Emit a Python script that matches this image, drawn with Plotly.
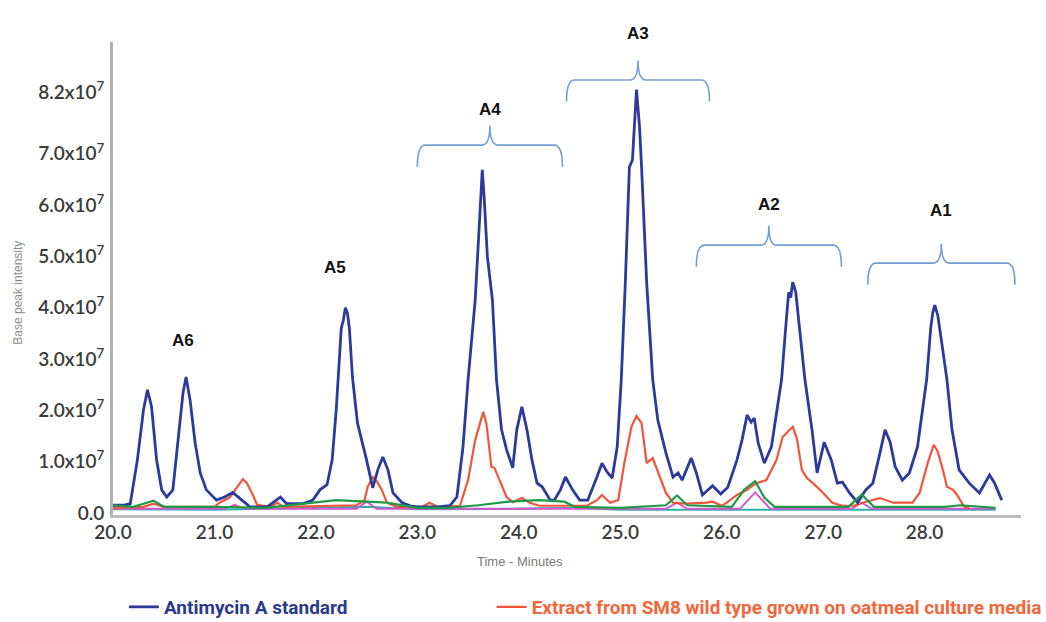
import plotly.graph_objects as go

# ---------------- data (time in minutes, intensity in units of 1e7) ----------------
blue_t = [20.00, 20.10, 20.17, 20.24, 20.30, 20.34, 20.38, 20.43, 20.48, 20.53, 20.59, 20.64, 20.69, 20.72,
          20.76, 20.81, 20.86, 20.92, 21.02, 21.10, 21.18, 21.27, 21.35, 21.52, 21.58, 21.65, 21.71, 21.87,
          21.97, 22.04, 22.11, 22.16, 22.20, 22.23, 22.25, 22.27, 22.29, 22.31, 22.33, 22.36, 22.41, 22.50,
          22.56, 22.61, 22.66, 22.71, 22.76, 22.85, 22.93, 23.00, 23.20, 23.32, 23.39, 23.45, 23.50, 23.57,
          23.60, 23.62, 23.64, 23.66, 23.69, 23.74, 23.78, 23.83, 23.88, 23.94, 23.98, 24.03, 24.08, 24.13,
          24.18, 24.23, 24.31, 24.35, 24.41, 24.46, 24.53, 24.60, 24.68, 24.77, 24.82, 24.87, 24.92, 24.97,
          25.01, 25.05, 25.09, 25.12, 25.16, 25.19, 25.21, 25.26, 25.32, 25.37, 25.45, 25.52, 25.57, 25.61,
          25.70, 25.75, 25.81, 25.91, 25.99, 26.06, 26.11, 26.15, 26.20, 26.25, 26.29, 26.32, 26.36, 26.42,
          26.49, 26.54, 26.59, 26.63, 26.66, 26.68, 26.70, 26.73, 26.77, 26.82, 26.89, 26.94, 27.01, 27.08,
          27.14, 27.19, 27.26, 27.34, 27.42, 27.49, 27.56, 27.61, 27.66, 27.71, 27.78, 27.85, 27.93, 27.98,
          28.02, 28.06, 28.08, 28.10, 28.13, 28.17, 28.22, 28.27, 28.34, 28.44, 28.54, 28.64, 28.69, 28.76]
blue_v = [0.15, 0.15, 0.18, 1.03, 2.00, 2.40, 2.07, 1.03, 0.45, 0.31, 0.45, 1.36, 2.34, 2.65,
          2.20, 1.36, 0.78, 0.45, 0.25, 0.31, 0.40, 0.25, 0.12, 0.12, 0.21, 0.31, 0.18, 0.18,
          0.25, 0.45, 0.55, 1.03, 2.00, 3.00, 3.60, 3.75, 4.00, 3.90, 3.60, 2.65, 1.75, 1.03,
          0.49, 0.84, 1.09, 0.84, 0.39, 0.20, 0.14, 0.12, 0.12, 0.14, 0.31, 1.29, 2.60, 4.15,
          5.20, 6.10, 6.69, 6.10, 5.00, 4.15, 2.60, 1.62, 1.23, 0.88, 1.62, 2.07, 1.62, 1.03,
          0.58, 0.51, 0.25, 0.25, 0.45, 0.70, 0.45, 0.25, 0.25, 0.70, 0.97, 0.80, 0.68, 1.29,
          2.60, 4.50, 6.74, 6.88, 8.25, 7.52, 6.74, 4.50, 2.60, 1.81, 1.17, 0.70, 0.78, 0.64,
          1.07, 0.78, 0.35, 0.53, 0.37, 0.50, 0.78, 1.03, 1.42, 1.91, 1.77, 1.85, 1.36, 0.97,
          1.29, 1.95, 2.60, 3.60, 4.30, 4.20, 4.50, 4.30, 3.60, 2.60, 1.62, 0.78, 1.38, 1.03,
          0.58, 0.60, 0.39, 0.20, 0.45, 0.58, 1.17, 1.62, 1.38, 0.90, 0.64, 0.78, 1.29, 2.07,
          2.60, 3.60, 3.90, 4.05, 3.85, 3.30, 2.60, 1.62, 0.84, 0.58, 0.39, 0.74, 0.58, 0.25]

red_t = [20.00, 20.30, 20.40, 20.50, 21.00, 21.05, 21.15, 21.23, 21.28, 21.32, 21.37, 21.42, 21.55, 21.62,
         21.68, 22.40, 22.48, 22.51, 22.56, 22.60, 22.65, 22.70, 22.80, 23.05, 23.12, 23.20, 23.42, 23.50,
         23.57, 23.65, 23.68, 23.73, 23.76, 23.81, 23.88, 23.94, 24.03, 24.11, 24.20, 24.67, 24.77, 24.82,
         24.90, 24.98, 25.04, 25.11, 25.16, 25.21, 25.26, 25.32, 25.39, 25.45, 25.52, 25.65, 25.85, 25.91,
         26.00, 26.05, 26.15, 26.25, 26.34, 26.44, 26.54, 26.60, 26.67, 26.70, 26.74, 26.79, 26.84, 26.90,
         27.00, 27.09, 27.19, 27.30, 27.39, 27.56, 27.69, 27.88, 27.95, 28.03, 28.09, 28.13, 28.18, 28.22,
         28.28, 28.32, 28.39, 28.44]
red_v = [0.10, 0.12, 0.18, 0.12, 0.12, 0.20, 0.30, 0.51, 0.66, 0.58, 0.39, 0.16, 0.12, 0.20,
         0.12, 0.15, 0.25, 0.51, 0.70, 0.62, 0.45, 0.20, 0.12, 0.12, 0.20, 0.12, 0.14, 0.64,
         1.42, 1.97, 1.75, 0.90, 0.88, 0.64, 0.31, 0.21, 0.29, 0.20, 0.14, 0.14, 0.25, 0.35,
         0.20, 0.25, 0.97, 1.68, 1.89, 1.75, 0.97, 1.07, 0.70, 0.39, 0.20, 0.18, 0.20, 0.22,
         0.14, 0.20, 0.35, 0.45, 0.58, 0.64, 1.03, 1.48, 1.62, 1.68, 1.46, 0.84, 0.68, 0.58,
         0.39, 0.20, 0.14, 0.14, 0.20, 0.29, 0.20, 0.20, 0.39, 0.97, 1.33, 1.19, 0.84, 0.51,
         0.45, 0.35, 0.12, 0.10]

green_t = [20.00, 20.20, 20.30, 20.40, 20.50, 21.00, 21.50, 21.90, 22.20, 22.50, 22.70, 23.00, 23.30, 23.60,
           23.90, 24.20, 24.45, 24.55, 25.00, 25.45, 25.56, 25.66, 26.10, 26.22, 26.33, 26.42, 26.52, 27.25,
           27.38, 27.50, 28.20, 28.35, 28.70]
green_v = [0.15, 0.12, 0.18, 0.24, 0.12, 0.12, 0.10, 0.18, 0.25, 0.22, 0.20, 0.10, 0.10, 0.15,
           0.22, 0.25, 0.22, 0.12, 0.10, 0.15, 0.34, 0.15, 0.12, 0.45, 0.62, 0.30, 0.12, 0.12,
           0.36, 0.12, 0.12, 0.15, 0.10]

magenta_t = [20.00, 21.10, 21.20, 21.30, 22.40, 22.50, 22.60, 25.45, 25.56, 25.66, 26.18, 26.33, 26.48,
             27.28, 27.38, 27.48, 28.70]
magenta_v = [0.08, 0.08, 0.16, 0.08, 0.08, 0.22, 0.08, 0.08, 0.20, 0.08, 0.08, 0.40, 0.08,
             0.08, 0.20, 0.08, 0.08]

teal_t = [20.00, 21.00, 22.00, 22.50, 23.00, 24.00, 24.50, 25.00, 26.00, 27.00, 28.00, 28.70]
teal_v = [0.07, 0.06, 0.10, 0.12, 0.07, 0.08, 0.10, 0.06, 0.06, 0.06, 0.06, 0.06]

y_tick_vals = [0.0, 1.0, 2.0, 3.0, 4.0, 5.0, 6.0, 7.0, 8.2]
y_tick_text = ["0.0", "1.0x10<sup>7</sup>", "2.0x10<sup>7</sup>", "3.0x10<sup>7</sup>", "4.0x10<sup>7</sup>",
               "5.0x10<sup>7</sup>", "6.0x10<sup>7</sup>", "7.0x10<sup>7</sup>", "8.2x10<sup>7</sup>"]
x_tick_vals = [20.0, 21.0, 22.0, 23.0, 24.0, 25.0, 26.0, 27.0, 28.0]
x_tick_text = ["20.0", "21.0", "22.0", "23.0", "24.0", "25.0", "26.0", "27.0", "28.0"]

# group brackets: label, start, end, bar height, label height
bracket_labels = ["A4", "A3", "A2", "A1"]
bracket_x0 = [23.00, 24.47, 25.75, 27.44]
bracket_x1 = [24.43, 25.88, 27.18, 28.89]
bracket_y = [7.17, 8.44, 5.22, 4.87]
bracket_label_y = [8.09, 9.57, 6.24, 5.89]
single_labels = ["A5", "A6"]
single_x = [22.19, 20.69]
single_y = [4.78, 3.37]

Y_MIN, Y_MAX = -0.04, 9.18

BLUE = "#2c3a9c"
RED = "#f2553a"
GREEN = "#1c9a48"
MAGENTA = "#d455cf"
TEAL = "#2ab3b0"
BRACKET = "#6f9fd2"


def ypaper(v):
    return (v - Y_MIN) / (Y_MAX - Y_MIN)


fig = go.Figure()
fig.add_trace(go.Scatter(x=teal_t, y=teal_v, mode="lines", line=dict(color=TEAL, width=2), showlegend=False))
fig.add_trace(go.Scatter(x=magenta_t, y=magenta_v, mode="lines", line=dict(color=MAGENTA, width=2), showlegend=False))
fig.add_trace(go.Scatter(x=red_t, y=red_v, mode="lines", line=dict(color=RED, width=2.2),
                         name='<span style="color:#f2663a"><b>Extract from SM8 wild type grown on oatmeal culture media</b></span>',
                         legend="legend2"))
fig.add_trace(go.Scatter(x=blue_t, y=blue_v, mode="lines", line=dict(color=BLUE, width=2.8),
                         name='<span style="color:#2a3a8c"><b>Antimycin A standard</b></span>',
                         legend="legend"))
fig.add_trace(go.Scatter(x=green_t, y=green_v, mode="lines", line=dict(color=GREEN, width=2.2), showlegend=False))

shapes = []
annotations = []
dx = 0.08
for lab, x0, x1, yb, yl in zip(bracket_labels, bracket_x0, bracket_x1, bracket_y, bracket_label_y):
    xc = (x0 + x1) / 2
    ye = yb - 0.42
    yt = yb + 0.38
    path = (f"M {x0},{ye} Q {x0},{yb} {x0+dx},{yb} L {xc-dx},{yb} Q {xc},{yb} {xc},{yt} "
            f"Q {xc},{yb} {xc+dx},{yb} L {x1-dx},{yb} Q {x1},{yb} {x1},{ye}")
    shapes.append(dict(type="path", path=path, xref="x", yref="y", line=dict(color=BRACKET, width=1.6)))
    annotations.append(dict(x=xc, y=ypaper(yl), xref="x", yref="paper", text=f"<b>{lab}</b>", showarrow=False,
                            font=dict(family="Liberation Sans, Arial", size=17, color="#111")))
for lab, xx, yy in zip(single_labels, single_x, single_y):
    annotations.append(dict(x=xx, y=ypaper(yy), xref="x", yref="paper", text=f"<b>{lab}</b>", showarrow=False,
                            font=dict(family="Liberation Sans, Arial", size=17, color="#111")))

annotations.append(dict(x=-0.1046, y=0.47, xref="paper", yref="paper", text="Base peak intensity",
                        textangle=-90, showarrow=False, xanchor="center", yanchor="middle",
                        font=dict(family="Liberation Sans, Arial", size=12, color="#8a8a8a")))
annotations.append(dict(x=0.448, y=-0.099, xref="paper", yref="paper", text="Time - Minutes",
                        showarrow=False, xanchor="center", yanchor="middle",
                        font=dict(family="Liberation Sans, Arial", size=13, color="#7a7a7a")))

legend_font = dict(family="Roboto, Liberation Sans", size=19)
tick_font = dict(family="Lato, Liberation Sans", size=19, color="#3a3a3a", weight=600)
fig.update_layout(
    width=1046, height=622,
    margin=dict(l=113, r=25, t=42, b=107, autoexpand=False),
    paper_bgcolor="white", plot_bgcolor="white",
    shapes=shapes, annotations=annotations,
    showlegend=True,
    legend=dict(orientation="h", x=0.012, y=-0.1945, xanchor="left", yanchor="middle",
                font=legend_font, bgcolor="rgba(0,0,0,0)"),
    legend2=dict(orientation="h", x=0.417, y=-0.1945, xanchor="left", yanchor="middle",
                 font=legend_font, bgcolor="rgba(0,0,0,0)"),
    xaxis=dict(range=[20.0, 28.95], tickvals=x_tick_vals, ticktext=x_tick_text, automargin=False,
               showgrid=False, zeroline=False, showline=True, linecolor="#bdbdbd", linewidth=3,
               ticks="", ticklabelstandoff=-2, tickfont=tick_font),
    yaxis=dict(range=[Y_MIN, Y_MAX], tickvals=y_tick_vals, ticktext=y_tick_text, automargin=False,
               showgrid=False, zeroline=False, showline=True, linecolor="#b0b0b0", linewidth=3,
               ticks="", ticklabelstandoff=2, tickfont=tick_font),
)

fig.write_html("out.html", config={"displayModeBar": False},
               post_script="document.body.style.margin='0px';")
